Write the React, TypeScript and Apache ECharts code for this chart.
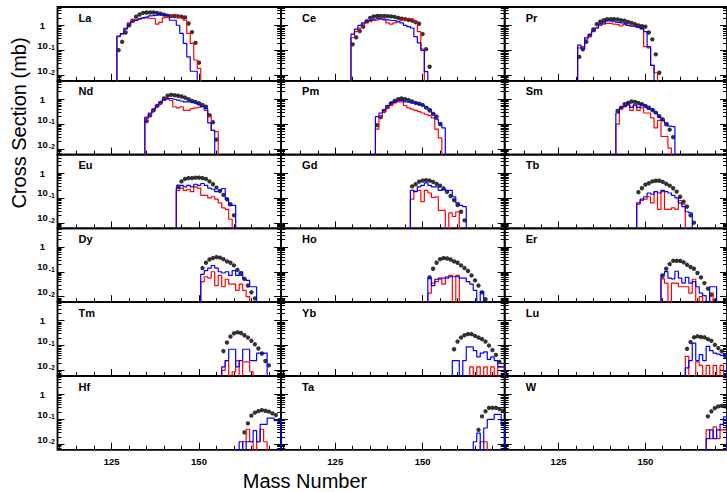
import React, { useEffect, useRef } from 'react';
import * as echarts from 'echarts';

const FONT = "'Liberation Sans', Arial, Helvetica, sans-serif";

const ELEMENTS = ['La', 'Ce', 'Pr', 'Nd', 'Pm', 'Sm', 'Eu', 'Gd', 'Tb', 'Dy', 'Ho', 'Er', 'Tm', 'Yb', 'Lu', 'Hf', 'Ta', 'W'];

// first mass number of each list
const DOT_START = [127, 130, 131, 135, 137, 142, 144, 147, 148, 151, 152, 155, 157, 159, 162, 163, 166, 168];
const BLUE_START = [127, 130, 131, 135, 137, 142, 144, 147, 148, 151, 152, 155, 157, 159, 162, 162, 165, 168];
const RED_START = [127, 130, 131, 135, 137, 142, 144, 147, 148, 151, 152, 155, 157, 164, 162, 163, 167, 168];

// cross sections (mb); 0 = empty bin
const LA_DOTS = [0.102, 0.22, 0.52, 1.0, 1.55, 2.25, 2.75, 3.2, 3.3, 3.3, 3.3, 3.2, 2.95, 2.7, 2.45, 2.35, 2.35, 2.3, 2.25, 2.1, 1.2, 0.54, 0.2, 0.032];
const LA_BLUE = [0.37, 0.47, 0.71, 1.12, 1.41, 1.58, 1.78, 2.0, 2.15, 2.4, 2.5, 2.6, 2.8, 2.6, 2.55, 1.62, 1.62, 1.02, 0.48, 0.19, 0.055, 0.0145, 0.0145];
const LA_RED = [0.355, 0.45, 0.79, 1.26, 1.58, 1.78, 1.9, 2.0, 2.0, 1.9, 1.9, 1.12, 1.32, 2.0, 2.25, 2.4, 2.75, 2.25, 2.0, 1.62, 0.48, 0.19, 0.041, 0.019];

const CE_DOTS = [0.174, 0.33, 0.6, 0.89, 1.48, 2.0, 2.3, 2.4, 2.4, 2.4, 2.35, 2.3, 2.2, 2.0, 1.86, 1.78, 1.66, 1.58, 1.35, 1.17, 0.45, 0.112, 0.022];
const CE_BLUE = [0.45, 0.71, 1.0, 1.26, 1.41, 1.58, 1.78, 1.9, 1.86, 1.78, 1.66, 1.58, 1.58, 1.41, 1.26, 1.0, 0.89, 0.79, 0.355, 0.2, 0.1, 0.014];
const CE_RED = [0.32, 0.56, 0.79, 1.12, 1.26, 1.41, 1.58, 1.66, 1.78, 1.66, 1.26, 1.12, 1.26, 1.41, 1.66, 1.78, 1.86, 1.78, 1.41, 0.56, 0.112];

const PR_DOTS = [0.055, 0.11, 0.22, 0.4, 0.69, 1.12, 1.41, 1.62, 1.78, 1.78, 1.78, 1.74, 1.62, 1.55, 1.38, 1.26, 1.12, 1.0, 0.93, 0.89, 0.52, 0.275, 0.069, 0.0126];
const PR_BLUE = [0.162, 0.112, 0.32, 0.42, 0.59, 0.79, 1.12, 1.26, 1.51, 1.51, 1.41, 1.32, 1.26, 1.2, 1.0, 0.93, 0.89, 0.83, 0.76, 0.56, 0.141, 0.025];
const PR_RED = [0.126, 0.141, 0.28, 0.355, 0.56, 0.79, 1.0, 1.12, 1.2, 1.2, 1.12, 1.07, 0.95, 1.07, 1.0, 1.05, 0.93, 0.83, 0.71, 0.141, 0.126, 0.025, 0.0126];

const ND_DOTS = [0.132, 0.224, 0.355, 0.54, 0.72, 1.07, 1.38, 1.51, 1.45, 1.38, 1.29, 1.17, 1.0, 0.85, 0.78, 0.69, 0.59, 0.5, 0.23, 0.12, 0.024];
const ND_BLUE = [0.19, 0.28, 0.4, 0.56, 0.76, 0.95, 1.07, 1.07, 1.0, 0.93, 0.85, 0.79, 0.79, 0.76, 0.71, 0.6, 0.52, 0.42, 0.112, 0.056];
const ND_RED = [0.166, 0.25, 0.355, 0.5, 0.71, 0.89, 1.0, 0.89, 0.5, 0.45, 0.5, 0.355, 0.355, 0.42, 0.45, 0.48, 0.5, 0.355, 0.2, 0.056, 0.05];

const PM_DOTS = [0.091, 0.19, 0.34, 0.49, 0.69, 0.85, 1.0, 1.07, 1.02, 0.93, 0.81, 0.71, 0.66, 0.59, 0.46, 0.355, 0.26, 0.2, 0.1];
const PM_BLUE = [0.2, 0.28, 0.38, 0.56, 0.71, 0.79, 0.89, 0.89, 0.79, 0.76, 0.71, 0.68, 0.63, 0.56, 0.5, 0.4, 0.28, 0.158, 0.112, 0.071];
const PM_RED = [0.063, 0.2, 0.32, 0.45, 0.56, 0.71, 0.79, 0.79, 0.56, 0.45, 0.4, 0.355, 0.32, 0.28, 0.25, 0.224, 0.178, 0.063, 0.028];

const SM_DOTS = [0.34, 0.46, 0.63, 0.72, 0.81, 0.78, 0.71, 0.63, 0.54, 0.46, 0.37, 0.29, 0.21, 0.155, 0.098, 0.06, 0.03];
const SM_BLUE = [0.28, 0.45, 0.5, 0.68, 0.47, 0.59, 0.47, 0.63, 0.54, 0.4, 0.4, 0.28, 0.19, 0.141, 0.112, 0.083, 0.079];
const SM_RED = [0.1, 0.4, 0.5, 0.56, 0.355, 0.56, 0.355, 0.45, 0.28, 0.28, 0.178, 0.071, 0.141, 0.032, 0.032, 0.011];

const EU_DOTS = [0.29, 0.46, 0.58, 0.63, 0.63, 0.65, 0.65, 0.63, 0.58, 0.46, 0.355, 0.26, 0.19, 0.132, 0.089, 0.056, 0.02];
const EU_BLUE = [0.25, 0.32, 0.28, 0.32, 0.28, 0.355, 0.32, 0.38, 0.32, 0.25, 0.224, 0.178, 0.2, 0.24, 0.089, 0.05, 0.05];
const EU_RED = [0.2, 0.25, 0.2, 0.224, 0.178, 0.28, 0.25, 0.126, 0.126, 0.1, 0.112, 0.089, 0.063, 0.04, 0.035, 0.014];

const GD_DOTS = [0.29, 0.355, 0.45, 0.5, 0.52, 0.5, 0.44, 0.37, 0.31, 0.24, 0.174, 0.12, 0.083, 0.052, 0.028, 0.0126];
const GD_BLUE = [0.2, 0.178, 0.28, 0.32, 0.4, 0.32, 0.28, 0.28, 0.2, 0.224, 0.2, 0.2, 0.112, 0.063, 0.05, 0.045];
const GD_RED = [0.089, 0.19, 0.2, 0.071, 0.2, 0.158, 0.105, 0.112, 0.032, 0.032, 0, 0.025, 0.018, 0.028];

const TB_DOTS = [0.17, 0.245, 0.34, 0.39, 0.46, 0.49, 0.49, 0.44, 0.37, 0.31, 0.245, 0.18, 0.112, 0.071, 0.045, 0.02, 0.0102];
const TB_BLUE = [0.063, 0.089, 0.112, 0.158, 0.141, 0.178, 0.158, 0.2, 0.178, 0.158, 0.126, 0.1, 0.063, 0.045, 0.028, 0.025];
const TB_RED = [0.056, 0.079, 0.089, 0.112, 0.063, 0.178, 0.035, 0.178, 0.035, 0.035, 0.04, 0.035, 0.079, 0.056];

const DY_DOTS = [0.141, 0.23, 0.31, 0.355, 0.39, 0.37, 0.32, 0.26, 0.23, 0.18, 0.12, 0.083, 0.052, 0.028, 0.015, 0.0085];
const DY_BLUE = [0.079, 0.112, 0.141, 0.178, 0.141, 0.1, 0.089, 0.1, 0.071, 0.112, 0.071, 0.1, 0.05, 0.045, 0.025, 0.025];
const DY_RED = [0.04, 0.063, 0.056, 0.1, 0.028, 0.071, 0.025, 0.05, 0.032, 0.032, 0.018, 0.032, 0.018, 0.01];

const HO_DOTS = [0.06, 0.132, 0.23, 0.32, 0.355, 0.34, 0.31, 0.26, 0.23, 0.18, 0.141, 0.107, 0.071, 0.045, 0.028, 0.015, 0.0079];
const HO_BLUE = [0.056, 0.028, 0.05, 0.056, 0.056, 0.056, 0.063, 0.063, 0.063, 0.056, 0.056, 0.04, 0.032, 0.018, 0, 0.016];
const HO_RED = [0.014, 0.035, 0.04, 0.05, 0.032, 0.063, 0.071, 0, 0.071];

const ER_DOTS = [0.069, 0.132, 0.204, 0.275, 0.275, 0.275, 0.24, 0.19, 0.155, 0.132, 0.089, 0.059, 0.035, 0.021, 0.012, 0.0069];
const ER_BLUE = [0.079, 0.102, 0.056, 0.052, 0.105, 0.056, 0.035, 0.06, 0.035, 0.04, 0.025, 0.014, 0.011, 0, 0.025, 0.025];
const ER_RED = [0.052, 0.035, 0, 0.035, 0.035, 0.025, 0.025, 0.025, 0.014, 0.05, 0, 0.01, 0, 0, 0.014];

const TM_DOTS = [0.06, 0.132, 0.23, 0.31, 0.34, 0.32, 0.26, 0.21, 0.155, 0.112, 0.076, 0.048, 0.024, 0.016];
const TM_BLUE = [0.014, 0.025, 0.071, 0.071, 0.014, 0.025, 0.071, 0.071, 0.025, 0.025, 0.05, 0.05, 0.05];
const TM_RED = [0.01, 0.025, 0, 0.0089, 0.025, 0, 0.022, 0.022, 0.0089];

const YB_DOTS = [0.071, 0.145, 0.21, 0.26, 0.29, 0.29, 0.245, 0.21, 0.18, 0.145, 0.1, 0.066, 0.042, 0.022];
const YB_BLUE = [0.025, 0.025, 0, 0.025, 0.089, 0.089, 0.063, 0.035, 0.05, 0.056, 0.028, 0.035, 0.025, 0.014, 0.014];
const YB_RED = [0.014, 0, 0.014, 0, 0.014, 0, 0.014, 0, 0.014, 0.014];

const LU_DOTS = [0.074, 0.138, 0.214, 0.235, 0.22, 0.214, 0.18, 0.155, 0.107, 0.079, 0.059, 0.037];
const LU_BLUE = [0.0126, 0.025, 0.126, 0.025, 0.043, 0.025, 0.093, 0.063, 0.05, 0.045, 0.04, 0.045];
const LU_RED = [0.037, 0, 0, 0.022, 0.016, 0, 0.016, 0, 0.016, 0, 0.016];

const HF_DOTS = [0.03, 0.069, 0.141, 0.186, 0.214, 0.235, 0.22, 0.204, 0.174, 0.148, 0.093];
const HF_BLUE = [0.0126, 0, 0.0126, 0.0126, 0.035, 0.0126, 0.063, 0.063, 0.112, 0.112, 0.089, 0.089];
const HF_RED = [0.0126, 0.04, 0.0126, 0, 0.0126, 0.04, 0.0126];

const TA_DOTS = [0.038, 0.132, 0.21, 0.29, 0.29, 0.29, 0.26, 0.224];
const TA_BLUE = [0.0126, 0.028, 0, 0.045, 0.1, 0.1, 0.158, 0.158, 0.063];
const TA_RED = [0.0126, 0.0126];

const W_DOTS = [0.132, 0.21, 0.28, 0.33, 0.35, 0.33];
const W_BLUE = [0.017, 0.038, 0.017, 0.038, 0.063, 0.126];
const W_RED = [0.038, 0.017, 0.05, 0.017, 0.038, 0.038];

const DOTS = [LA_DOTS, CE_DOTS, PR_DOTS, ND_DOTS, PM_DOTS, SM_DOTS, EU_DOTS, GD_DOTS, TB_DOTS, DY_DOTS, HO_DOTS, ER_DOTS, TM_DOTS, YB_DOTS, LU_DOTS, HF_DOTS, TA_DOTS, W_DOTS];
const BLUE = [LA_BLUE, CE_BLUE, PR_BLUE, ND_BLUE, PM_BLUE, SM_BLUE, EU_BLUE, GD_BLUE, TB_BLUE, DY_BLUE, HO_BLUE, ER_BLUE, TM_BLUE, YB_BLUE, LU_BLUE, HF_BLUE, TA_BLUE, W_BLUE];
const RED = [LA_RED, CE_RED, PR_RED, ND_RED, PM_RED, SM_RED, EU_RED, GD_RED, TB_RED, DY_RED, HO_RED, ER_RED, TM_RED, YB_RED, LU_RED, HF_RED, TA_RED, W_RED];

// axes
const X_MIN = 109.5;
const X_MAX = 173.5;
const Y_MIN = 0.006;
const Y_MAX = 5.5;
const X_LABELS = [125, 150];
const X_MAJOR_TICKS = [125, 150];
const X_MINOR_TICKS = [110, 115, 120, 125, 130, 135, 140, 145, 150, 155, 160, 165, 170];
const Y_MAJOR = [0.01, 0.1, 1];
const Y_MINOR = [0.007, 0.008, 0.009, 0.02, 0.03, 0.04, 0.05, 0.06, 0.07, 0.08, 0.09, 0.2, 0.3, 0.4, 0.5, 0.6, 0.7, 0.8, 0.9, 2, 3, 4, 5];

const GRID_LEFT = 57.5;
const GRID_TOP = 7;
const COL_W = 223.6;
const ROW_H = 73.8;
const FLOOR = 1e-4; // empty bins drawn below the frame

function histData(start: number, vals: number[]) {
  const d: number[][] = [[start - 1, FLOOR]];
  vals.forEach((v, k) => d.push([start + k, v > 0 ? v : FLOOR]));
  d.push([start + vals.length, FLOOR]);
  return d;
}

export default function App() {
  const ref = useRef<HTMLDivElement>(null);
  useEffect(() => {
    document.body.style.margin = '0';
    if (!ref.current) return;
    const chart = echarts.init(ref.current, undefined, { renderer: 'svg' });
    const tickLine = { color: '#000', width: 1 };
    const grid: any[] = [];
    const xAxis: any[] = [];
    const yAxis: any[] = [];
    const series: any[] = [];
    const title: any[] = [];
    ELEMENTS.forEach((name, i) => {
      const r = Math.floor(i / 3);
      const c = i % 3;
      const left = GRID_LEFT + c * COL_W;
      const top = GRID_TOP + r * ROW_H;
      grid.push({ left, top, width: COL_W, height: ROW_H, show: true, borderColor: '#000', borderWidth: 1.8, backgroundColor: 'transparent' });
      title.push({
        text: name, left: left + 21, top: top + 5, padding: 0,
        textStyle: { fontSize: 11, fontWeight: 'bold', fontFamily: FONT, color: '#000' },
      });
      const xBase = { type: 'value', gridIndex: i, min: X_MIN, max: X_MAX, position: 'bottom', axisLine: { show: false }, splitLine: { show: false } };
      xAxis.push({
        ...xBase,
        axisTick: { show: true, inside: true, length: 4, customValues: X_MINOR_TICKS, lineStyle: tickLine },
        axisLabel: { show: r === 5, customValues: X_LABELS, hideOverlap: false, margin: 7, fontSize: 9.5, fontWeight: 'bold', color: '#000', fontFamily: FONT },
      });
      xAxis.push({
        ...xBase,
        axisTick: { show: true, inside: true, length: 7, customValues: X_MAJOR_TICKS, lineStyle: tickLine },
        axisLabel: { show: false },
      });
      const yBase = { type: 'log', logBase: 10, gridIndex: i, min: Y_MIN, max: Y_MAX, axisLine: { show: false }, splitLine: { show: false } };
      yAxis.push({
        ...yBase, position: 'left',
        axisTick: { show: true, inside: true, length: 7, customValues: Y_MAJOR, lineStyle: tickLine },
        axisLabel: {
          show: c === 0, customValues: Y_MAJOR, hideOverlap: false, showMinLabel: true, showMaxLabel: true,
          margin: 2.5, color: '#000',
          formatter: (v: number) => {
            const e = Math.round(Math.log10(v));
            return e === 0 ? '{one|1}' : '{b|10}{s|' + e + '}';
          },
          rich: {
            one: { fontSize: 9.5, fontWeight: 'bold', fontFamily: FONT, color: '#000', lineHeight: 12, padding: [0, 10, 0, 0] },
            b: { fontSize: 9.5, fontWeight: 'bold', fontFamily: FONT, color: '#000', lineHeight: 12, verticalAlign: 'bottom', padding: [0, 0, 6, 0] },
            s: { fontSize: 7, fontWeight: 'bold', fontFamily: FONT, color: '#000', lineHeight: 8, verticalAlign: 'top', padding: [0, 0, 14, 1] },
          },
        },
      });
      yAxis.push({ ...yBase, position: 'left', axisTick: { show: true, inside: true, length: 4, customValues: Y_MINOR, lineStyle: tickLine }, axisLabel: { show: false } });
      yAxis.push({ ...yBase, position: 'right', axisTick: { show: true, inside: true, length: 7, customValues: Y_MAJOR, lineStyle: tickLine }, axisLabel: { show: false } });
      yAxis.push({ ...yBase, position: 'right', axisTick: { show: true, inside: true, length: 4, customValues: Y_MINOR, lineStyle: tickLine }, axisLabel: { show: false } });

      series.push({
        type: 'line', name: name + ' red', xAxisIndex: 2 * i, yAxisIndex: 4 * i, step: 'middle', clip: true,
        showSymbol: false, symbol: 'none', silent: true,
        lineStyle: { color: '#ff0000', width: 1.2 }, data: histData(RED_START[i], RED[i]),
      });
      series.push({
        type: 'line', name: name + ' blue', xAxisIndex: 2 * i, yAxisIndex: 4 * i, step: 'middle', clip: true,
        showSymbol: false, symbol: 'none', silent: true,
        lineStyle: { color: '#0000ff', width: 1.2 }, data: histData(BLUE_START[i], BLUE[i]),
      });
      series.push({
        type: 'scatter', name: name + ' dots', xAxisIndex: 2 * i, yAxisIndex: 4 * i, symbol: 'circle', symbolSize: 4.4,
        silent: true, itemStyle: { color: '#000' },
        data: DOTS[i].map((v, k) => [DOT_START[i] + k, v]),
      });
    });

    chart.setOption({
      animation: false,
      backgroundColor: '#fff',
      textStyle: { fontFamily: FONT },
      title,
      grid,
      xAxis,
      yAxis,
      series,
      graphic: [
        {
          type: 'text', x: 19, y: 123, rotation: Math.PI / 2,
          style: { text: 'Cross Section (mb)', fontSize: 20, fontFamily: FONT, fill: '#000', textAlign: 'center', textVerticalAlign: 'middle', align: 'center', verticalAlign: 'middle' },
        },
        {
          type: 'text', x: 305, y: 481,
          style: { text: 'Mass Number', fontSize: 20, fontFamily: FONT, fill: '#000', textAlign: 'center', textVerticalAlign: 'middle', align: 'center', verticalAlign: 'middle' },
        },
      ],
    });
    return () => chart.dispose();
  }, []);
  return <div ref={ref} style={{ width: 727, height: 492 }} />;
}
